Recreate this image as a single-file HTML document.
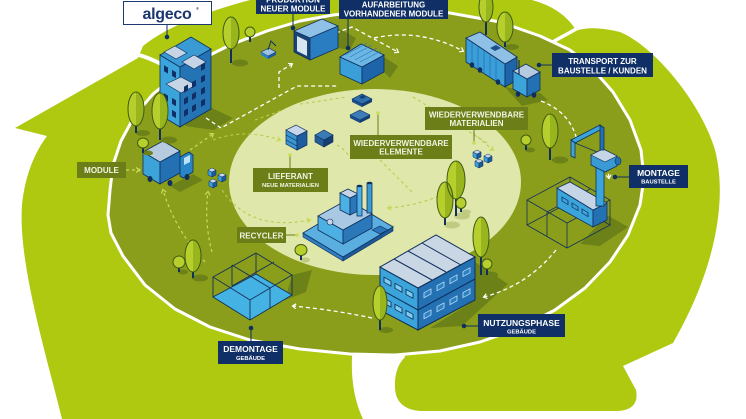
<!DOCTYPE html>
<html><head><meta charset="utf-8"><style>
html,body{margin:0;padding:0;background:#fff;}
svg{display:block;}
text{font-family:"Liberation Sans",Arial,sans-serif;font-weight:bold;}
</style></head><body>
<svg width="746" height="419" viewBox="0 0 746 419" xmlns="http://www.w3.org/2000/svg">
<defs>
<marker id="aw" markerWidth="7" markerHeight="7" refX="4" refY="3" orient="auto" markerUnits="userSpaceOnUse"><path d="M1,0.5 L4.5,3 L1,5.5" fill="none" stroke="#fff" stroke-width="1.2" stroke-dasharray="none"/></marker>
<marker id="ap" markerWidth="7" markerHeight="7" refX="4" refY="3" orient="auto" markerUnits="userSpaceOnUse"><path d="M1,0.5 L4.5,3 L1,5.5" fill="none" stroke="#c9dc55" stroke-width="1.2" stroke-dasharray="none"/></marker>
</defs>
<rect width="746" height="419" fill="#fff"/>

<!-- lime swirls -->
<path d="M62,419 C45,350 18,262 22,205 C25,175 35,152 47,136 L15,128 L138,58 L143,46 Q175,20 250,0 L532,0 Q562,8 576,30 L540,60 L380,200 L352,357 C351,382 355,402 363,419 Z" fill="#aec90f"/>
<path d="M545,46 L575,31 Q592,25 620,32 C652,45 700,100 715,150 C728,200 715,270 673,343 L623,366 L636,390 Q640,411 615,411 L420,411 Q396,409 395,388 Q394,368 405,357 L380,200 Z" fill="#aec90f"/>
<path d="M139,55 Q160,61 188,80" stroke="#fff" stroke-width="4" fill="none"/>
<path d="M578,28 L538,50" stroke="#fff" stroke-width="3.5" fill="none"/>

<!-- main dark ellipse -->
<path d="M108,215 L110,190 L113,165 L121,141 L135,115 L153,94 L175,76 L200,60 L230,45 L267,31 L300,21 L333,15 L370,11 L410,10 L450,13 L500,22 L540,36 L570,50 L590,66 L613,92 L630,120 L641,150 L644,178 L640,205 L628,235 L610,262 L585,288 L555,310 L520,328 L480,342 L440,351 L395,355 L350,354 L300,349 L250,340 L210,327 L175,309 L145,285 L123,256 L111,233 Z" fill="#8b9e1c" stroke="#fff" stroke-width="3" stroke-linejoin="round"/>

<!-- pale inner ellipse -->
<ellipse cx="375" cy="182" rx="146" ry="93" fill="#dfe7ab"/>

<!-- shadows -->
<g fill="#6c8117">
<polygon points="195,100 233,118 214,130 185,126"/>
<polygon points="170,186 193,174 203,180 180,192"/>
<polygon points="338,28 356,38 350,50 338,48"/>
<polygon points="384,57 398,66 390,78 384,72"/>
<polygon points="505,87 540,93 548,100 522,106"/>
<polygon points="430,328 475,300 475,262 508,284 462,326"/>
<polygon points="292,275 312,270 306,292 285,300"/>
<polygon points="607,215 628,227 600,246 580,244"/>
</g>
<polygon points="372,216 395,226 380,240 370,232" fill="#c3cf86"/>

<!-- white dashed flows -->
<g fill="none" stroke="#fff" stroke-width="1.3" stroke-dasharray="4 3">
<path d="M206,118 L221,128 L297,86 L337,86"/>
<path d="M279,88 L279,72 L292,64" marker-end="url(#aw)"/>
<path d="M336,33 L352,27 L398,52" marker-end="url(#aw)"/>
<path d="M374,38 Q420,28 463,51" marker-end="url(#aw)"/>
<path d="M541,101 Q570,112 577,140" marker-end="url(#aw)"/>
<path d="M556,250 Q528,285 484,297" marker-end="url(#aw)"/>
<path d="M372,318 Q335,310 293,306" marker-end="url(#aw)"/>
<path d="M605,153 L609,178" marker-end="url(#aw)"/>
</g>
<!-- pale dashed flows -->
<g fill="none" stroke="#c9dc55" stroke-width="1.2" stroke-dasharray="3 3">
<path d="M126,170 L139,170" marker-end="url(#ap)"/>
<path d="M190,150 L213,134" marker-end="url(#ap)"/>
<path d="M205,262 Q175,230 163,190" marker-end="url(#ap)"/>
<path d="M212,252 Q204,222 208,192" marker-end="url(#ap)"/>
</g>
<g fill="none" stroke="#b9cc50" stroke-width="1.1" stroke-dasharray="3 3">
<path d="M213,140 Q245,128 280,140" marker-end="url(#ap)"/>
<path d="M222,190 Q250,232 310,220" marker-end="url(#ap)"/>
<path d="M300,104 L347,97"/>
<path d="M413,97 L487,143"/>
<path d="M473,133 L493,150" marker-end="url(#ap)"/>
<path d="M465,182 Q430,205 388,208" marker-end="url(#ap)"/>
<path d="M380,160 L413,193"/>
<path d="M337,145 Q346,150 350,158"/>
<path d="M255,120 L283,110"/>
</g>

<!-- office building -->
<polygon points="160,115 180,127 180,67 160,55" fill="#3ba5db" stroke="#0f2f5c" stroke-width="0.8"/>
<polygon points="180,127 211,109 211,49 180,67" fill="#2373b5" stroke="#0f2f5c" stroke-width="0.8"/>
<polygon points="180,67 211,49 191,37 160,55" fill="#3a9ad4" stroke="#0f2f5c" stroke-width="0.8"/>
<polygon points="164,52 176,59 187,53 175,46" fill="#c5d5e6" stroke="#0f2f5c" stroke-width="0.6"/>
<polygon points="182,62 194,69 206,62 194,55" fill="#c5d5e6" stroke="#0f2f5c" stroke-width="0.6"/>
<polygon points="166,84 181,93 196,85 181,77" fill="#c5d5e6" stroke="#0f2f5c" stroke-width="0.6"/>
<g transform="translate(160,55) skewY(30)" fill="#0f2f66">
<rect x="4" y="8" width="4" height="6"/><rect x="12" y="8" width="4" height="6"/>
<rect x="4" y="36" width="4" height="6"/><rect x="12" y="36" width="4" height="6"/>
<rect x="4" y="48" width="4" height="6"/><rect x="12" y="48" width="4" height="6"/>
</g>
<g transform="translate(180,67) skewY(-30)" fill="#0f2f66">
<rect x="4" y="22" width="4" height="6"/><rect x="12" y="22" width="4" height="6"/><rect x="21" y="10" width="4" height="6"/>
<rect x="4" y="34" width="4" height="6"/><rect x="12" y="34" width="4" height="6"/><rect x="21" y="22" width="4" height="6"/>
<rect x="4" y="46" width="4" height="6"/><rect x="12" y="46" width="4" height="6"/><rect x="21" y="34" width="4" height="6"/>
<rect x="21" y="46" width="4" height="6"/>
</g>

<!-- module truck -->
<polygon points="143,152 160,162 160,184 143,174" fill="#3da4da" stroke="#0f2f5c" stroke-width="0.8"/>
<polygon points="160,162 180,151 180,173 160,184" fill="#2370b2" stroke="#0f2f5c" stroke-width="0.8"/>
<polygon points="143,152 160,162 180,151 163,141" fill="#b7cbe0" stroke="#0f2f5c" stroke-width="0.8"/>
<polygon points="180,157 189,152 193,155 193,172 183,178 180,176" fill="#2a85c6" stroke="#0f2f5c" stroke-width="0.8"/>
<polygon points="184,158 190,155 190,162 184,165" fill="#bfe3f5"/>
<g fill="#0f2f5c"><ellipse cx="150" cy="179" rx="2.5" ry="3"/><ellipse cx="170" cy="183" rx="2.5" ry="3"/><ellipse cx="187" cy="177" rx="2.5" ry="3"/></g>

<!-- cubes near truck -->
<g stroke="#0f2f5c" stroke-width="0.5">
<polygon points="208,170 212,172 212,177 208,175" fill="#3ca3da"/><polygon points="212,172 216,170 216,175 212,177" fill="#1c5b9c"/><polygon points="208,170 212,168 216,170 212,172" fill="#c9d9ea"/>
<polygon points="218,175 222,177 222,182 218,180" fill="#3ca3da"/><polygon points="222,177 226,175 226,180 222,182" fill="#1c5b9c"/><polygon points="218,175 222,173 226,175 222,177" fill="#c9d9ea"/>
<polygon points="209,181 213,183 213,188 209,186" fill="#3ca3da"/><polygon points="213,183 217,181 217,186 213,188" fill="#1c5b9c"/><polygon points="209,181 213,179 217,181 213,183" fill="#c9d9ea"/>
</g>

<!-- small crane vehicle -->
<polygon points="261,52 268,56 276,52 269,48" fill="#9fc2e0" stroke="#0f2f5c" stroke-width="0.6"/>
<polygon points="261,52 268,56 268,59 261,55" fill="#2a85c6"/>
<polygon points="268,56 276,52 276,55 268,59" fill="#1c5b9c"/>
<path d="M268,50 L271,41 L276,46" stroke="#0f2f5c" stroke-width="1" fill="none"/>

<!-- production container (open) -->
<polygon points="294,31 310,38 310,60 294,52" fill="#1a4476" stroke="#0f2f5c" stroke-width="0.8"/>
<polygon points="297,36 307,41 307,56 297,51" fill="#d8e6f2"/>
<polygon points="310,38 338,26 338,48 310,60" fill="#2a7dc0" stroke="#0f2f5c" stroke-width="0.8"/>
<polygon points="294,31 310,38 338,26 322,19" fill="#8fc0e6" stroke="#0f2f5c" stroke-width="0.8"/>
<!-- container 2 -->
<polygon points="340,57 362,67 362,84 340,74" fill="#3a9fd8" stroke="#0f2f5c" stroke-width="0.8"/>
<polygon points="362,67 384,55 384,72 362,84" fill="#1e64a8" stroke="#0f2f5c" stroke-width="0.8"/>
<polygon points="340,57 362,67 384,55 361,44" fill="#6cb6e3" stroke="#0f2f5c" stroke-width="0.8"/>
<g stroke="#2a78b9" stroke-width="0.6"><line x1="345" y1="55" x2="367" y2="43"/><line x1="350" y1="57" x2="372" y2="45"/><line x1="355" y1="60" x2="377" y2="48"/><line x1="360" y1="62" x2="381" y2="51"/></g>

<!-- top right truck -->
<polygon points="466,38 505,64 505,87 466,62" fill="#3a9fd8" stroke="#0f2f5c" stroke-width="0.8"/>
<polygon points="505,64 517,57 517,80 505,87" fill="#1e64a8" stroke="#0f2f5c" stroke-width="0.8"/>
<polygon points="466,38 480,32 517,57 505,64" fill="#8fc0e6" stroke="#0f2f5c" stroke-width="0.8"/>
<polygon points="490,48 496,45 501,48 495,51" fill="#1e4f8a"/>
<g stroke="#1e64a8" stroke-width="0.6"><line x1="472" y1="43" x2="472" y2="66"/><line x1="478" y1="47" x2="478" y2="70"/><line x1="484" y1="51" x2="484" y2="74"/><line x1="490" y1="55" x2="490" y2="78"/><line x1="496" y1="59" x2="496" y2="82"/></g>
<polygon points="513,71 527,79 527,97 513,89" fill="#3da4da" stroke="#0f2f5c" stroke-width="0.8"/>
<polygon points="527,79 540,72 540,90 527,97" fill="#2370b2" stroke="#0f2f5c" stroke-width="0.8"/>
<polygon points="513,71 527,79 540,72 526,64" fill="#b7cbe0" stroke="#0f2f5c" stroke-width="0.8"/>
<line x1="519" y1="60" x2="519" y2="74" stroke="#0f2f5c" stroke-width="1.2"/>
<g fill="#0f2f5c"><ellipse cx="472" cy="65" rx="2.3" ry="2.8"/><ellipse cx="480" cy="70" rx="2.3" ry="2.8"/><ellipse cx="498" cy="82" rx="2.3" ry="2.8"/><ellipse cx="518" cy="94" rx="2.3" ry="2.8"/><ellipse cx="534" cy="95" rx="2.3" ry="2.8"/></g>

<!-- montage wireframe + module + crane -->
<g fill="none" stroke="#15305a" stroke-width="0.8">
<polygon points="527,225 567,248 610,225 570,202"/>
<polygon points="527,200 567,223 610,200 570,177"/>
<line x1="527" y1="200" x2="527" y2="225"/><line x1="567" y1="223" x2="567" y2="248"/><line x1="610" y1="200" x2="610" y2="225"/><line x1="570" y1="177" x2="570" y2="202"/>
<line x1="547" y1="212" x2="547" y2="237"/><line x1="547" y1="212" x2="590" y2="189"/>
</g>
<polygon points="557,188 593,210 593,227 557,207" fill="#3ba5db" stroke="#0f2f5c" stroke-width="0.8"/>
<polygon points="593,210 607,203 607,220 593,227" fill="#2370b2" stroke="#0f2f5c" stroke-width="0.8"/>
<polygon points="557,188 570,182 607,203 593,210" fill="#c5d5e6" stroke="#0f2f5c" stroke-width="0.8"/>
<g transform="translate(557,188) skewY(31)" fill="none" stroke="#0f2f5c" stroke-width="0.8"><rect x="5" y="6" width="6" height="4"/><rect x="15" y="6" width="6" height="4"/><rect x="25" y="6" width="6" height="4"/></g>
<rect x="596" y="166" width="8" height="40" fill="#3ba5db" stroke="#0f2f5c" stroke-width="0.8"/>
<polygon points="591,155 603,149 617,156 617,166 605,172 591,165" fill="#3a9ad4" stroke="#0f2f5c" stroke-width="0.8"/>
<polygon points="591,155 603,149 617,156 605,162" fill="#c5d5e6" stroke="#0f2f5c" stroke-width="0.6"/>
<ellipse cx="618" cy="161" rx="3" ry="4" fill="#2370b2" stroke="#0f2f5c" stroke-width="0.6"/>
<polygon points="571,140 600,125 604,128 575,143" fill="#3ba5db" stroke="#0f2f5c" stroke-width="0.8"/>
<polygon points="571,140 575,143 575,158 571,156" fill="#3ba5db" stroke="#0f2f5c" stroke-width="0.8"/>
<polygon points="600,125 604,128 604,150 600,150" fill="#2370b2" stroke="#0f2f5c" stroke-width="0.8"/>
<path d="M575,143 L597,152" stroke="#0f2f5c" stroke-width="0.8"/>

<!-- nutzungsphase building -->
<polygon points="380,267 418,288 418,330 380,310" fill="#3ba5db" stroke="#0f2f5c" stroke-width="1"/>
<polygon points="418,288 475,257 475,300 418,330" fill="#2370b2" stroke="#0f2f5c" stroke-width="1"/>
<polygon points="380,267 418,288 475,257 436,235" fill="#c9d6e4" stroke="#0f2f5c" stroke-width="1"/>
<g stroke="#0f2f5c" stroke-width="1"><line x1="394" y1="259" x2="432" y2="280"/><line x1="408" y1="251" x2="446" y2="272"/><line x1="422" y1="243" x2="461" y2="265"/>
<line x1="380" y1="289" x2="418" y2="310"/><line x1="418" y1="310" x2="475" y2="279"/></g>
<g transform="translate(380,267) skewY(29)" fill="#7fcdf0" stroke="#0f2f5c" stroke-width="0.9"><rect x="4" y="8" width="7" height="5"/><rect x="15" y="8" width="7" height="5"/><rect x="26" y="8" width="7" height="5"/><rect x="4" y="29" width="7" height="5"/><rect x="15" y="29" width="7" height="5"/><rect x="26" y="29" width="7" height="5"/></g>
<g transform="translate(418,288) skewY(-28.5)" fill="#2a82c4" stroke="#c5dff2" stroke-width="0.8"><rect x="6" y="8" width="7" height="5"/><rect x="19" y="8" width="7" height="5"/><rect x="32" y="8" width="7" height="5"/><rect x="45" y="8" width="7" height="5"/><rect x="6" y="29" width="7" height="5"/><rect x="19" y="29" width="7" height="5"/><rect x="32" y="29" width="7" height="5"/><rect x="45" y="29" width="7" height="5"/></g>

<!-- demontage -->
<polygon points="213,297 250,320 292,295 256,274" fill="#45b2e4" stroke="#0f2f5c" stroke-width="0.9"/>
<g fill="none" stroke="#15305a" stroke-width="0.9">
<polygon points="213,277 250,300 292,275 256,253"/>
<line x1="213" y1="277" x2="213" y2="297"/><line x1="250" y1="300" x2="250" y2="320"/><line x1="292" y1="275" x2="292" y2="295"/><line x1="256" y1="253" x2="256" y2="274"/>
<line x1="232" y1="265" x2="270" y2="288"/><line x1="232" y1="265" x2="232" y2="286"/><line x1="270" y1="288" x2="270" y2="308"/>
<line x1="232" y1="286" x2="274" y2="262"/>
</g>

<!-- factory / recycler -->
<polygon points="303,233 343,257 343,261 303,237" fill="#2f7fc0" stroke="#0f2f5c" stroke-width="0.6"/>
<polygon points="343,257 393,227 393,231 343,261" fill="#1d5a9a" stroke="#0f2f5c" stroke-width="0.6"/>
<polygon points="303,233 343,257 393,227 353,203" fill="#5aaee0" stroke="#0f2f5c" stroke-width="0.8"/>
<polygon points="318,230 343,244 343,230 318,216" fill="#4db0e4" stroke="#0f2f5c" stroke-width="0.8"/>
<polygon points="343,244 372,228 372,214 343,230" fill="#2a78b9" stroke="#0f2f5c" stroke-width="0.8"/>
<polygon points="318,216 343,230 372,214 347,200" fill="#a9c8e3" stroke="#0f2f5c" stroke-width="0.8"/>
<polygon points="340,210 350,215 350,198 340,193" fill="#4db0e4" stroke="#0f2f5c" stroke-width="0.8"/>
<polygon points="350,215 358,211 358,194 350,198" fill="#2a78b9" stroke="#0f2f5c" stroke-width="0.8"/>
<polygon points="340,193 350,198 358,194 348,189" fill="#c5d5e6" stroke="#0f2f5c" stroke-width="0.8"/>
<circle cx="330" cy="222" r="3" fill="#c5d5e6" stroke="#0f2f5c" stroke-width="0.6"/>
<rect x="357" y="186" width="5" height="30" fill="#4db0e4" stroke="#0f2f5c" stroke-width="0.8"/>
<rect x="367" y="183" width="5" height="30" fill="#3a9ad4" stroke="#0f2f5c" stroke-width="0.8"/>
<ellipse cx="359.5" cy="186" rx="2.5" ry="1.2" fill="#0f2f5c"/><ellipse cx="369.5" cy="183" rx="2.5" ry="1.2" fill="#0f2f5c"/>
<polygon points="372,230 380,226 388,230 380,234" fill="#2a78b9" stroke="#0f2f5c" stroke-width="0.6"/>

<!-- lieferant -->
<polygon points="286,130 297,136 297,150 286,144" fill="#3b95d0" stroke="#0f2f5c" stroke-width="0.7"/>
<polygon points="297,136 307,131 307,145 297,150" fill="#1d5c9e" stroke="#0f2f5c" stroke-width="0.7"/>
<polygon points="286,130 297,136 307,131 296,125" fill="#c7d6e8" stroke="#0f2f5c" stroke-width="0.7"/>
<g stroke="#0f2f5c" stroke-width="0.6"><line x1="286" y1="135" x2="297" y2="141"/><line x1="286" y1="140" x2="297" y2="146"/></g>
<polygon points="315,135 324,140 324,147 315,142" fill="#255d98" stroke="#0f2f5c" stroke-width="0.6"/>
<polygon points="324,140 333,135 333,142 324,147" fill="#163f70" stroke="#0f2f5c" stroke-width="0.6"/>
<polygon points="315,135 324,130 333,135 324,140" fill="#3a7ab5" stroke="#0f2f5c" stroke-width="0.6"/>

<!-- reusable elements -->
<polygon points="352,99 362,104 362,107 352,102" fill="#1e4f8a"/>
<polygon points="362,104 372,99 372,102 362,107" fill="#143d70"/>
<polygon points="352,99 362,94 372,99 362,104" fill="#2d6faf" stroke="#0f2f5c" stroke-width="0.6"/>
<polygon points="359,97 363,95 366,97 362,99" fill="#163f70"/>
<polygon points="350,115 360,120 360,123 350,118" fill="#1e4f8a"/>
<polygon points="360,120 370,115 370,118 360,123" fill="#143d70"/>
<polygon points="350,115 360,110 370,115 360,120" fill="#3c7cb8" stroke="#0f2f5c" stroke-width="0.6"/>

<!-- material cubes -->
<g stroke="#0f2f5c" stroke-width="0.5">
<polygon points="473,152 477,154 477,159 473,157" fill="#3ca3da"/><polygon points="477,154 481,152 481,157 477,159" fill="#1c5b9c"/><polygon points="473,152 477,150 481,152 477,154" fill="#c9d9ea"/>
<polygon points="484,156 488,158 488,163 484,161" fill="#3ca3da"/><polygon points="488,158 492,156 492,161 488,163" fill="#1c5b9c"/><polygon points="484,156 488,154 492,156 488,158" fill="#c9d9ea"/>
<polygon points="475,161 479,163 479,168 475,166" fill="#3ca3da"/><polygon points="479,163 483,161 483,166 479,168" fill="#1c5b9c"/><polygon points="475,161 479,159 483,161 479,163" fill="#c9d9ea"/>
</g>

<!-- trees -->
<g id="trees">
<g fill="#6c8117"><ellipse cx="240" cy="63" rx="8" ry="3.5"/><ellipse cx="143" cy="133" rx="7" ry="3"/><ellipse cx="169" cy="140" rx="8" ry="3.5"/><ellipse cx="560" cy="160" rx="8" ry="3.5"/><ellipse cx="512" cy="47" rx="7" ry="3"/><ellipse cx="490" cy="275" rx="8" ry="3.5"/><ellipse cx="386" cy="330" rx="7" ry="3"/><ellipse cx="200" cy="278" rx="8" ry="3.5"/><ellipse cx="183" cy="272" rx="5" ry="2.5"/><ellipse cx="148" cy="153" rx="5" ry="2.5"/><ellipse cx="530" cy="150" rx="5" ry="2.5"/></g>
<g fill="#bfcb80"><ellipse cx="462" cy="216" rx="8" ry="3.5"/><ellipse cx="452" cy="225" rx="8" ry="3.5"/><ellipse cx="305" cy="260" rx="5" ry="2.5"/><ellipse cx="466" cy="212" rx="5" ry="2.5"/></g>
<g stroke="#0f2f5c" stroke-width="2">
<line x1="231" y1="46" x2="231" y2="63"/><line x1="250" y1="36" x2="250" y2="42"/>
<line x1="136" y1="124" x2="136" y2="133"/><line x1="160" y1="126" x2="160" y2="140"/><line x1="143" y1="147" x2="143" y2="153"/>
<line x1="486" y1="20" x2="486" y2="35"/><line x1="505" y1="40" x2="505" y2="47"/>
<line x1="550" y1="146" x2="550" y2="160"/><line x1="526" y1="144" x2="526" y2="150"/>
<line x1="456" y1="198" x2="456" y2="216"/><line x1="445" y1="216" x2="445" y2="225"/><line x1="461" y1="207" x2="461" y2="212"/>
<line x1="481" y1="255" x2="481" y2="275"/><line x1="487" y1="268" x2="487" y2="275"/>
<line x1="380" y1="318" x2="380" y2="330"/>
<line x1="193" y1="270" x2="193" y2="278"/><line x1="179" y1="267" x2="179" y2="272"/><line x1="301" y1="254" x2="301" y2="260"/>
</g>
<g fill="#b7cf2c">
<ellipse cx="231" cy="33" rx="8" ry="16"/><ellipse cx="250" cy="32" rx="5" ry="5"/>
<ellipse cx="136" cy="109" rx="8" ry="17"/><ellipse cx="160" cy="111" rx="8" ry="18"/><ellipse cx="143" cy="143" rx="5.5" ry="5"/>
<ellipse cx="486" cy="7" rx="7" ry="15"/><ellipse cx="505" cy="27" rx="8" ry="15"/>
<ellipse cx="550" cy="131" rx="8" ry="17"/><ellipse cx="526" cy="140" rx="5" ry="5"/>
<ellipse cx="456" cy="180" rx="9" ry="19"/><ellipse cx="445" cy="200" rx="8" ry="18"/><ellipse cx="461" cy="203" rx="5" ry="5.5"/>
<ellipse cx="481" cy="237" rx="8" ry="20"/><ellipse cx="487" cy="264" rx="5" ry="5"/>
<ellipse cx="380" cy="303" rx="7" ry="17"/>
<ellipse cx="193" cy="256" rx="8" ry="16"/><ellipse cx="179" cy="262" rx="6" ry="6"/><ellipse cx="301" cy="250" rx="6" ry="5.5"/>
</g>
<g fill="#98b51d">
<path d="M231,17 A8 16 0 0 1 231,49 Z"/>
<path d="M136,92 A8 17 0 0 1 136,126 Z"/>
<path d="M160,93 A8 18 0 0 1 160,129 Z"/>
<path d="M486,-8 A7 15 0 0 1 486,22 Z"/>
<path d="M505,12 A8 15 0 0 1 505,42 Z"/>
<path d="M550,114 A8 17 0 0 1 550,148 Z"/>
<path d="M456,161 A9 19 0 0 1 456,199 Z"/>
<path d="M445,182 A8 18 0 0 1 445,218 Z"/>
<path d="M481,217 A8 20 0 0 1 481,257 Z"/>
<path d="M380,286 A7 17 0 0 1 380,320 Z"/>
<path d="M193,240 A8 16 0 0 1 193,272 Z"/>
</g>
<g fill="none" stroke="#3f5a12" stroke-width="1">
<ellipse cx="231" cy="33" rx="8" ry="16"/><ellipse cx="250" cy="32" rx="5" ry="5"/>
<ellipse cx="136" cy="109" rx="8" ry="17"/><ellipse cx="160" cy="111" rx="8" ry="18"/><ellipse cx="143" cy="143" rx="5.5" ry="5"/>
<ellipse cx="486" cy="7" rx="7" ry="15"/><ellipse cx="505" cy="27" rx="8" ry="15"/>
<ellipse cx="550" cy="131" rx="8" ry="17"/><ellipse cx="526" cy="140" rx="5" ry="5"/>
<ellipse cx="456" cy="180" rx="9" ry="19"/><ellipse cx="445" cy="200" rx="8" ry="18"/><ellipse cx="461" cy="203" rx="5" ry="5.5"/>
<ellipse cx="481" cy="237" rx="8" ry="20"/><ellipse cx="487" cy="264" rx="5" ry="5"/>
<ellipse cx="380" cy="303" rx="7" ry="17"/>
<ellipse cx="193" cy="256" rx="8" ry="16"/><ellipse cx="179" cy="262" rx="6" ry="6"/><ellipse cx="301" cy="250" rx="6" ry="5.5"/>
</g>
</g>

<!-- navy labels -->
<g fill="#0f2f5c" stroke="#0f2f5c" stroke-width="1">
<line x1="167" y1="25" x2="167" y2="37"/><circle cx="167" cy="37" r="1.8"/>
<line x1="293" y1="14" x2="293" y2="28"/><circle cx="293" cy="28" r="1.8"/>
<line x1="348" y1="19" x2="348" y2="48"/><circle cx="348" cy="48" r="1.8"/>
<line x1="539" y1="65" x2="552" y2="65"/><circle cx="539" cy="65" r="1.8"/>
<line x1="615" y1="177" x2="629" y2="177"/><circle cx="615" cy="177" r="1.8"/>
<line x1="464" y1="326" x2="478" y2="326"/><circle cx="464" cy="326" r="1.8"/>
<line x1="251" y1="328" x2="251" y2="341"/><circle cx="251" cy="328" r="1.8"/>
</g>
<rect x="123.5" y="1.5" width="88" height="23" fill="#fff" stroke="#1c3a6e" stroke-width="1"/>
<text x="167" y="19" font-size="16" fill="#1b3670" text-anchor="middle" letter-spacing="-0.3">algeco</text>
<text x="196" y="10" font-size="4" fill="#1b3670">®</text>

<g fill="#0f2f66">
<rect x="256" y="-5" width="74" height="19"/>
<rect x="339" y="-2" width="109" height="21"/>
<rect x="552" y="53" width="101" height="24"/>
<rect x="629" y="165" width="59" height="23"/>
<rect x="478" y="314" width="87" height="23"/>
<rect x="218" y="341" width="65" height="23"/>
</g>
<g fill="#fff" text-anchor="middle">
<text x="293" y="2.5" font-size="8">PRODUKTION</text>
<text x="293" y="11.5" font-size="8">NEUER MODULE</text>
<text x="393.5" y="7.5" font-size="8">AUFARBEITUNG</text>
<text x="393.5" y="16.5" font-size="8">VORHANDENER MODULE</text>
<text x="602.5" y="64" font-size="8">TRANSPORT ZUR</text>
<text x="602.5" y="73.5" font-size="8">BAUSTELLE / KUNDEN</text>
<text x="658.5" y="176" font-size="8.5">MONTAGE</text>
<text x="658.5" y="183.5" font-size="5.8">BAUSTELLE</text>
<text x="521.5" y="326" font-size="8.5">NUTZUNGSPHASE</text>
<text x="521.5" y="333.5" font-size="5.8">GEBÄUDE</text>
<text x="250.5" y="352" font-size="8.5">DEMONTAGE</text>
<text x="250.5" y="360" font-size="5.8">GEBÄUDE</text>
</g>

<!-- olive labels -->
<g fill="#6b7e17" stroke="#6b7e17" stroke-width="1">
<line x1="290" y1="155" x2="290" y2="168"/>
<line x1="378" y1="113" x2="378" y2="135"/>
<line x1="474" y1="130" x2="474" y2="143"/>
<line x1="286" y1="235" x2="297" y2="235"/>
</g>
<g fill="#c9dc55"><circle cx="290" cy="155" r="1.8"/><circle cx="378" cy="113" r="1.8"/><circle cx="474" cy="143" r="1.8"/><circle cx="297" cy="235" r="1.8"/><circle cx="139" cy="170" r="1.5"/></g>
<g fill="#6b7e17">
<rect x="77" y="162" width="49" height="16"/>
<rect x="253" y="168" width="75" height="24"/>
<rect x="350" y="135" width="102" height="24"/>
<rect x="425" y="107" width="103" height="23"/>
<rect x="237" y="227" width="49" height="16"/>
</g>
<g fill="#f2f5e2" text-anchor="middle">
<text x="101.5" y="173" font-size="8">MODULE</text>
<text x="290.5" y="179" font-size="8">LIEFERANT</text>
<text x="290.5" y="187" font-size="5.8">NEUE MATERIALIEN</text>
<text x="401" y="146" font-size="8">WIEDERVERWENDBARE</text>
<text x="401" y="154.5" font-size="8">ELEMENTE</text>
<text x="476.5" y="117.5" font-size="8">WIEDERVERWENDBARE</text>
<text x="476.5" y="126" font-size="8">MATERIALIEN</text>
<text x="261.5" y="238.5" font-size="8">RECYCLER</text>
</g>
</svg>
</body></html>
